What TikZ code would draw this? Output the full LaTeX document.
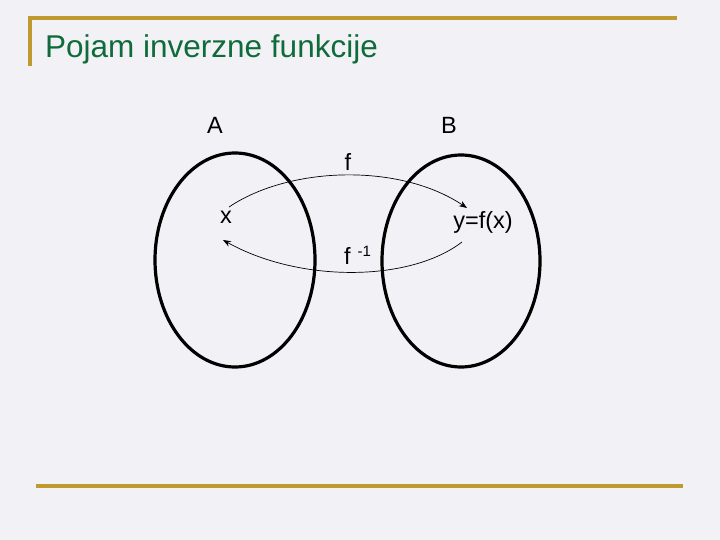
\documentclass[tikz,border=0pt]{standalone}
\usepackage{fontspec}
\setmainfont{Liberation Sans}
\usetikzlibrary{arrows.meta,shapes.geometric}
\definecolor{bg}{HTML}{F2F2F6}
\definecolor{gold}{HTML}{C09A30}
\definecolor{titlegreen}{HTML}{0F6B3A}
\tikzset{
  setline/.style={ellipse, line width=3.2pt, draw=black, inner sep=0pt, outer sep=0pt},
  maparrow/.style={line width=0.7pt, -{Stealth[length=8pt,width=6pt]}},
  lbl/.style={font=\fontsize{23.5}{26}\selectfont, inner sep=0pt},
  rule/.style={draw=gold, line width=3.4pt}
}
\begin{document}
\begin{tikzpicture}[x=1pt,y=-1pt]
\fill[bg] (0,0) rectangle (720,540);
\useasboundingbox (0,0) rectangle (720,540);
% rules
\coordinate (t1) at (30,18); \coordinate (t2) at (677,18); \coordinate (t3) at (30,66);
\draw[rule] (t3) -- (t1) -- (t2);
\coordinate (b1) at (36,486); \coordinate (b2) at (683,486);
\draw[rule] (b1) -- (b2);
% title
\node[anchor=base west, inner sep=0pt, text=titlegreen, font=\fontsize{31.5}{36}\selectfont] (title) at (45,58) {Pojam inverzne funkcije};
% sets
\node[setline, minimum width=160pt, minimum height=214pt] (SA) at (235,260) {};
\node[setline, minimum width=158pt, minimum height=212pt] (SB) at (461,261) {};
\node[lbl, anchor=base] (A) at (215,134) {A};
\node[lbl, anchor=base] (B) at (449,134) {B};
\node[lbl, anchor=base] (f) at (348,171) {f};
\node[lbl, anchor=base] (x) at (226,224) {x};
\node[lbl, anchor=base] (y) at (483,229) {y=f(x)};
\node[lbl, anchor=base west] (fi) at (344,264) {f\hspace{7pt}\raisebox{8pt}{\fontsize{15}{17}\selectfont -1}};
% arrows
\coordinate (xs) at (229,207);
\coordinate (ye) at (467,208);
\coordinate (ys) at (462,242);
\coordinate (xe) at (223,240);
\draw[maparrow] (xs) .. controls (290,166) and (400,163) .. (ye);
\draw[maparrow] (ys) .. controls (410,282) and (300,283) .. (xe);
\end{tikzpicture}
\end{document}
